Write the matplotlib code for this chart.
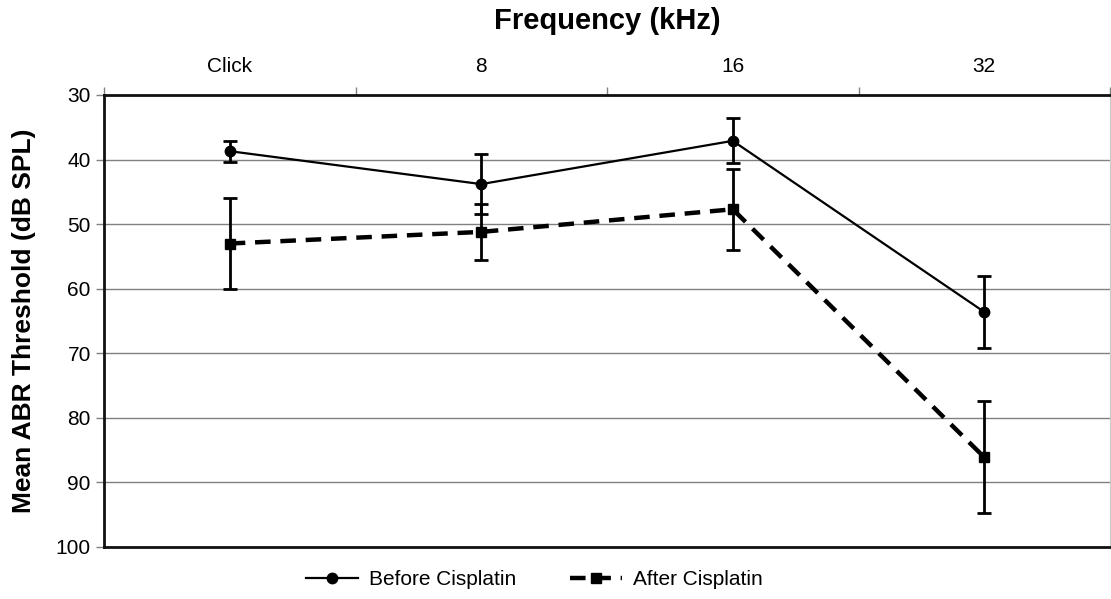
import matplotlib.pyplot as plt
import matplotlib.ticker as mticker
from matplotlib.lines import Line2D

plt.rcParams['font.family'] = ['Liberation Sans', 'DejaVu Sans']

freqs = ["Click", "8", "16", "32"]
before = [38.7, 43.8, 37.1, 63.6]
before_err = [1.6, 4.7, 3.5, 5.6]
after = [53.0, 51.2, 47.7, 86.1]
after_err = [7.1, 4.3, 6.3, 8.7]

x = list(range(len(freqs)))
dash = (0, (3.5, 2.2))

fig = plt.figure(figsize=(11.11, 5.99), dpi=100)
ax = fig.add_axes([104 / 1111, 1 - 547 / 599, 1006 / 1111, 452 / 599])

ax.errorbar(x, before, yerr=before_err, color="black", lw=1.6, marker="o", ms=7.5,
            elinewidth=2, capsize=5, capthick=2, zorder=3)
ax.errorbar(x, after, yerr=after_err, color="black", lw=3.2, ls=dash, marker="s", ms=7.5,
            elinewidth=2, capsize=5, capthick=2, zorder=3)

ax.set_ylim(100, 30)
ax.set_xlim(-0.5, 3.5)
ax.set_yticks(range(30, 101, 10))
ax.yaxis.grid(True, color="#808080", lw=1)
ax.set_axisbelow(True)

ax.xaxis.set_ticks_position("top")
ax.xaxis.set_label_position("top")
ax.set_xticks(x)
ax.set_xticklabels(freqs)
ax.xaxis.set_minor_locator(mticker.FixedLocator([-0.5, 0.5, 1.5, 2.5, 3.5]))
ax.tick_params(axis="x", which="major", length=0, labelsize=15, pad=14)
ax.tick_params(axis="x", which="minor", length=6, width=1, color="#808080")
ax.tick_params(axis="y", length=6, width=1, color="#808080", labelsize=15, direction="out")

for s in ["left", "bottom", "top"]:
    ax.spines[s].set_linewidth(2)
    ax.spines[s].set_color("#111111")
ax.spines["right"].set_color("#cccccc")

ax.set_xlabel("Frequency (kHz)", fontsize=21, fontweight="bold", labelpad=20)
ax.set_ylabel("Mean ABR Threshold (dB SPL)", fontsize=19, fontweight="bold", labelpad=14)

handles = [Line2D([], [], color="black", lw=1.6, marker="o", ms=7.5),
           Line2D([], [], color="black", lw=3.2, ls=dash, marker="s", ms=7.5)]
fig.legend(handles, ["Before Cisplatin", "After Cisplatin"], loc="lower center",
           bbox_to_anchor=(0.481, -0.015), ncol=2, frameon=False, fontsize=15,
           handlelength=2.5, columnspacing=2.6, handletextpad=0.5)

fig.savefig("out.png", dpi=100)
